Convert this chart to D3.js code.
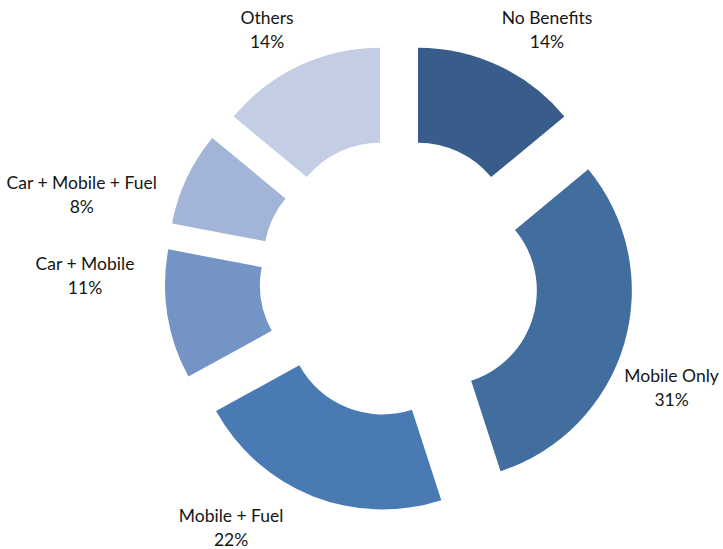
<html>
	<head>
		<title>Benefits Donut</title>
		<style>
			body { margin: 0; background: #ffffff; }
			text { font-family: Lato, "Open Sans", sans-serif; font-size: 17.5px; fill: #161616; }
		</style>
	</head>
	<body>
		<div id="chart"></div>

		<script src="https://cdn.jsdelivr.net/npm/d3@7"></script>
		<script>
			var categories = ["No Benefits", "Mobile Only", "Mobile + Fuel", "Car + Mobile", "Car + Mobile + Fuel", "Others"];
			var shares = [14, 31, 22, 11, 8, 14];
			var colors = ["#395d8a", "#416d9f", "#4a7ab4", "#7494c6", "#a2b4d7", "#c3cee4"];

			(function(){
				"use strict";

				var w = 723,
					h = 549,
					cx = 399,
					cy = 278,
					r = 190,
					rInner = 95,
					explode = 44.6;

				// label placement tweaks: angle shift (deg) from slice bisector, and distance from centre
				var labelShift = {
					"No Benefits": { da: 5.6, dist: 289 },
					"Mobile Only": { da: 5.8, dist: 294 },
					"Mobile + Fuel": { da: 12.3, dist: 301 },
					"Car + Mobile": { da: 9.4, dist: 314 },
					"Car + Mobile + Fuel": { da: -10.5, dist: 328 },
					"Others": { da: -2.8, dist: 281 }
				};

				var data = categories.map(function(c, i){
					return { name: c, value: shares[i], color: colors[i] };
				});

				var pie = d3.pie()
					.sort(null)
					.value(function(d){ return d.value; });

				var arc = d3.arc()
					.innerRadius(rInner)
					.outerRadius(r);

				var svg = d3.select("#chart").append("svg")
					.attr("width", w)
					.attr("height", h);

				var g = svg.append("g")
					.attr("transform", "translate(" + cx + "," + cy + ")");

				var slices = g.selectAll("g.slice")
					.data(pie(data))
					.enter()
					.append("g")
						.attr("class", "slice");

				slices.append("path")
					.attr("fill", function(d){ return d.data.color; })
					.attr("transform", function(d){
						var a = (d.startAngle + d.endAngle) / 2;
						return "translate(" + (Math.sin(a) * explode) + "," + (-Math.cos(a) * explode) + ")";
					})
					.attr("d", arc);

				var labels = slices.append("text")
					.attr("text-anchor", "middle")
					.attr("transform", function(d){
						var s = labelShift[d.data.name];
						var a = (d.startAngle + d.endAngle) / 2 + s.da * Math.PI / 180;
						return "translate(" + (Math.sin(a) * s.dist) + "," + (-Math.cos(a) * s.dist) + ")";
					});

				labels.append("tspan")
					.attr("x", 0)
					.attr("y", -6)
					.text(function(d){ return d.data.name; });

				labels.append("tspan")
					.attr("x", 0)
					.attr("y", 18)
					.text(function(d){ return d.data.value + "%"; });

			})();
		</script>
	</body>
</html>
